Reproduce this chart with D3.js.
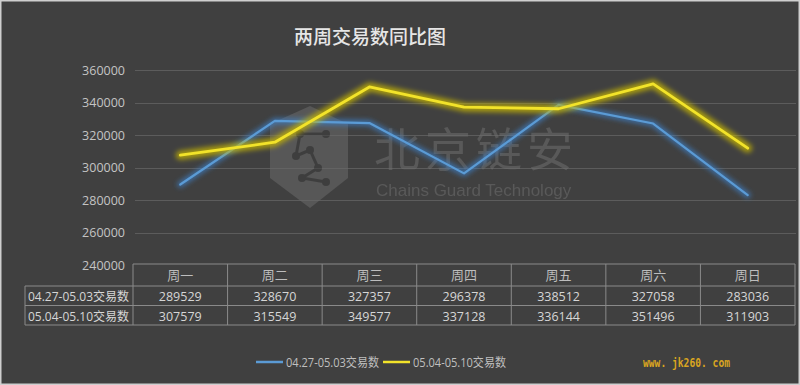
<!DOCTYPE html>
<html>
<head>
<meta charset="utf-8">
<script src="https://cdn.jsdelivr.net/npm/d3@7"></script>
<style>
  body { margin: 0; background: #404040; }
  svg { display: block; }
</style>
</head>
<body>
<div id="chart"></div>
<script>
const width = 800, height = 385;

const days = ["周一", "周二", "周三", "周四", "周五", "周六", "周日"];
const seriesNames = ["04.27-05.03交易数", "05.04-05.10交易数"];
const week1 = [289529, 328670, 327357, 296378, 338512, 327058, 283036];
const week2 = [307579, 315549, 349577, 337128, 336144, 351496, 311903];
const yTicks = [240000, 260000, 280000, 300000, 320000, 340000, 360000];
const colors = ["#5b9bd5", "#f2e32a"];
const glowColors = ["#3d7fc4", "#c9b800"];

const plot = { left: 133, right: 795, top: 70, bottom: 265 };

let svg = d3.select("#chart")
    .append("svg")
    .attr("width", width)
    .attr("height", height);

// background + light frame
svg.append("rect")
    .attr("x", 0.5).attr("y", 0.5)
    .attr("width", width - 1).attr("height", height - 1)
    .attr("fill", "#404040")
    .attr("stroke", "#cfcfcf")
    .attr("stroke-width", 2);

let defs = svg.append("defs");
glowColors.forEach(function(c, i) {
  let f = defs.append("filter").attr("id", "glow" + i)
      .attr("x", "-10%").attr("y", "-30%").attr("width", "120%").attr("height", "160%");
  f.append("feGaussianBlur").attr("stdDeviation", 2.4).attr("result", "b");
});

let x = d3.scaleBand()
    .domain(days)
    .range([plot.left, plot.right]);

let y = d3.scaleLinear()
    .domain([240000, 360000])
    .range([plot.bottom, plot.top]);

// title
svg.append("text")
    .attr("x", 370)
    .attr("y", 44)
    .attr("text-anchor", "middle")
    .style("font-family", "'Noto Sans CJK SC'")
    .style("font-size", "19px")
    .style("font-weight", 500)
    .style("fill", "#e6e6e6")
    .text("两周交易数同比图");

// grid
svg.append("g").selectAll("line").data(yTicks.slice(1))
    .enter()
    .append("line")
    .attr("x1", plot.left + 2)
    .attr("x2", plot.right + 1)
    .attr("y1", function(d) { return Math.round(y(d)) + 0.5; })
    .attr("y2", function(d) { return Math.round(y(d)) + 0.5; })
    .attr("stroke", "#5c5c5c")
    .attr("stroke-width", 1);

// y axis labels
let yAxis = svg.append("g")
    .attr("transform", `translate(${plot.left - 8},0)`)
    .call(d3.axisLeft(y).tickValues(yTicks).tickSize(0).tickPadding(0).tickFormat(d3.format("d")));
yAxis.select(".domain").remove();
yAxis.selectAll("text")
    .style("font-family", "'Open Sans', 'Noto Sans'")
    .style("font-size", "12.5px")
    .style("fill", "#c4c4c4");

// watermark
let wm = svg.append("g").style("opacity", 0.55);
wm.append("path")
    .attr("d", "M310,106 L348,124 L348,178 L310,208 L270,178 L270,124 Z")
    .attr("fill", "#6a6a6a");
let net = [[326,134],[300,134],[296,156],[310,150],[318,168],[302,178],[326,182]];
wm.append("path")
    .attr("d", d3.line()(net))
    .attr("fill", "none").attr("stroke", "#3e3e3e").attr("stroke-width", 3);
wm.selectAll("circle").data(net).enter().append("circle")
    .attr("cx", function(d) { return d[0]; })
    .attr("cy", function(d) { return d[1]; })
    .attr("r", 4).attr("fill", "#3e3e3e");
wm.append("text")
    .attr("x", 374).attr("y", 166)
    .style("font-family", "'Noto Sans CJK SC'")
    .style("font-size", "46px")
    .style("letter-spacing", "5px")
    .style("fill", "#6e6e6e")
    .text("北京链安");
wm.append("text")
    .attr("x", 376).attr("y", 196)
    .style("font-family", "'Liberation Sans'")
    .style("font-size", "17px")
    .style("fill", "#6e6e6e")
    .text("Chains Guard Technology");

// lines
let line = d3.line()
    .x(function(d, i) { return x(days[i]) + x.bandwidth() / 2; })
    .y(function(d) { return y(d); });

[week1, week2].forEach(function(data, i) {
  let g = svg.append("g");
  g.append("path")
      .datum(data)
      .attr("d", line)
      .attr("fill", "none")
      .attr("stroke", glowColors[i])
      .attr("stroke-width", i === 1 ? 9 : 6)
      .attr("stroke-opacity", 0.75)
      .attr("stroke-linejoin", "round")
      .attr("stroke-linecap", "round")
      .attr("filter", "url(#glow" + i + ")");
  g.append("path")
      .datum(data)
      .attr("d", line)
      .attr("fill", "none")
      .attr("stroke", colors[i])
      .attr("stroke-width", i === 1 ? 2.8 : 2.2)
      .attr("stroke-linejoin", "round")
      .attr("stroke-linecap", "round");
});

// data table
let table = svg.append("g");
let rowTop = [264, 286, 305.5, 325];
let labelLeft = 25;
let gridColor = "#8a8a8a";

table.append("line")
    .attr("x1", plot.left).attr("x2", plot.right)
    .attr("y1", rowTop[0]).attr("y2", rowTop[0])
    .attr("stroke", gridColor);
rowTop.slice(1).forEach(function(yy) {
  table.append("line")
      .attr("x1", labelLeft).attr("x2", plot.right)
      .attr("y1", yy).attr("y2", yy)
      .attr("stroke", gridColor);
});
let vx = days.map(function(d) { return x(d); }).concat([plot.right]);
vx.forEach(function(xx) {
  table.append("line")
      .attr("x1", xx).attr("x2", xx)
      .attr("y1", rowTop[0]).attr("y2", rowTop[3])
      .attr("stroke", gridColor);
});
table.append("line")
    .attr("x1", labelLeft).attr("x2", labelLeft)
    .attr("y1", rowTop[1]).attr("y2", rowTop[3])
    .attr("stroke", gridColor);

table.selectAll("text.day").data(days)
    .enter()
    .append("text")
    .attr("class", "day")
    .attr("x", function(d) { return x(d) + x.bandwidth() / 2; })
    .attr("y", 280)
    .attr("text-anchor", "middle")
    .style("font-family", "'Noto Sans CJK SC'")
    .style("font-size", "13px")
    .style("fill", "#bdbdbd")
    .text(function(d) { return d; });

[week1, week2].forEach(function(data, r) {
  table.append("text")
      .attr("x", labelLeft + 3)
      .attr("y", rowTop[r + 1] + 15)
      .attr("textLength", 101)
      .attr("lengthAdjust", "spacingAndGlyphs")
      .style("font-family", "'Open Sans', 'Noto Sans CJK SC'")
      .style("font-size", "12.5px")
      .style("fill", "#d6d6d6")
      .text(seriesNames[r]);
  table.selectAll("text.v" + r).data(data)
      .enter()
      .append("text")
      .attr("class", "v" + r)
      .attr("x", function(d, i) { return x(days[i]) + x.bandwidth() / 2; })
      .attr("y", rowTop[r + 1] + 15)
      .attr("text-anchor", "middle")
      .style("font-family", "'Open Sans'")
      .style("font-size", "12.5px")
      .style("fill", "#d6d6d6")
      .text(function(d) { return d; });
});

// legend
let legend = svg.append("g");
let legendX = [256, 383];
seriesNames.forEach(function(name, i) {
  legend.append("line")
      .attr("x1", legendX[i]).attr("x2", legendX[i] + 27)
      .attr("y1", 362).attr("y2", 362)
      .attr("stroke", colors[i])
      .attr("stroke-width", 2.5);
  legend.append("text")
      .attr("x", legendX[i] + 30)
      .attr("y", 367)
      .attr("textLength", 93)
      .attr("lengthAdjust", "spacingAndGlyphs")
      .style("font-family", "'Open Sans', 'Noto Sans CJK SC'")
      .style("font-size", "12.5px")
      .style("fill", "#bfbfbf")
      .text(name);
});

// site stamp
svg.append("text")
    .attr("x", 643)
    .attr("y", 367)
    .attr("textLength", 87)
    .attr("lengthAdjust", "spacingAndGlyphs")
    .style("font-family", "'DejaVu Sans Mono'")
    .style("font-size", "12px")
    .style("font-weight", 700)
    .style("fill", "#d9a521")
    .text("www. jk260. com");
</script>
</body>
</html>
